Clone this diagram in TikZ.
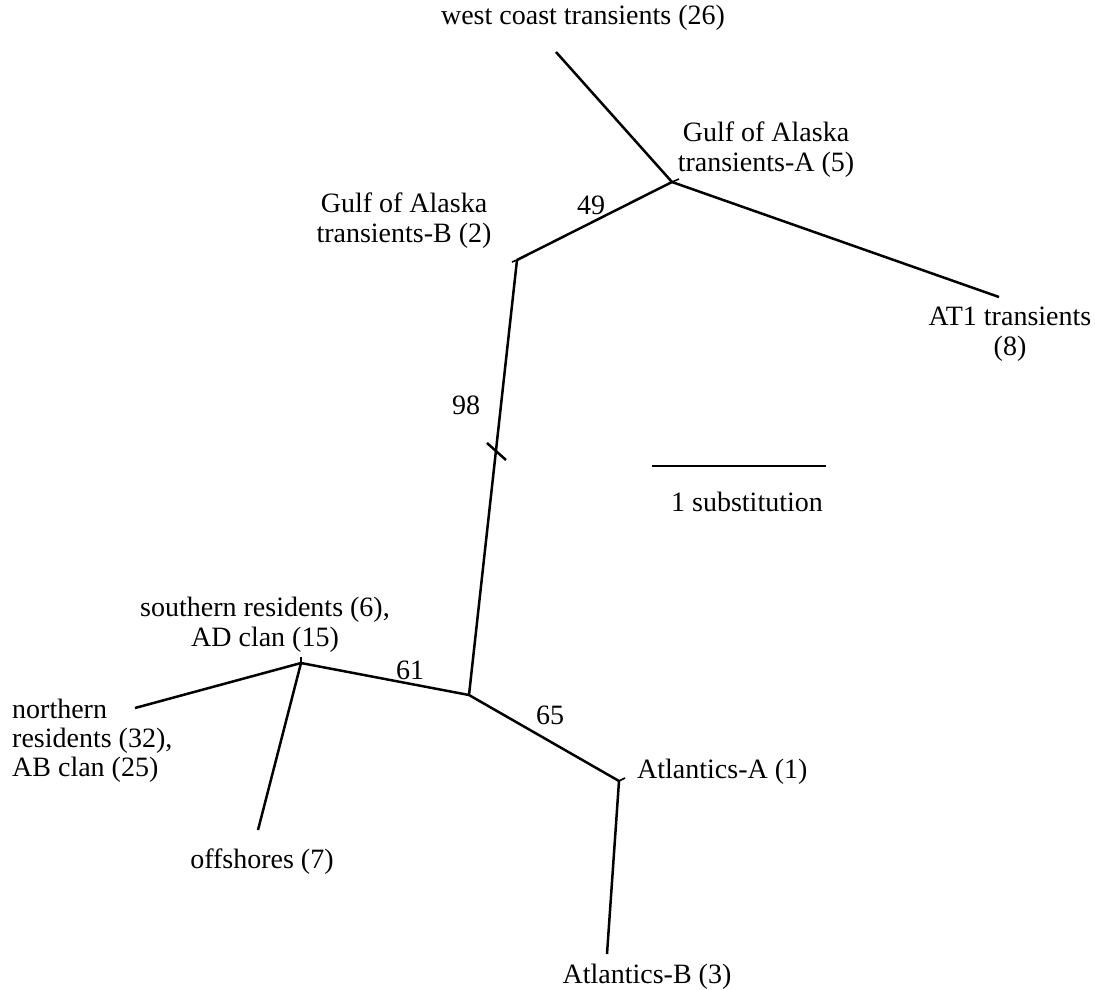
\documentclass[tikz,border=0pt]{standalone}
\usepackage{fontspec}
\setmainfont{Liberation Serif}
\begin{document}
\begin{tikzpicture}[x=1pt,y=-1pt,
  branch/.style={line width=2.5pt,line cap=butt},
  stub/.style={line width=1.6pt},
  lbl/.style={font=\fontsize{28}{30}\selectfont,inner sep=0pt,align=center},
  lbll/.style={font=\fontsize{28}{29}\selectfont,inner sep=0pt,align=left}]
\useasboundingbox (0,0) rectangle (1095,989);
% vertices
\coordinate (WC) at (556,52);
\coordinate (A) at (672,182);
\coordinate (AT1) at (999,297);
\coordinate (B) at (517,260);
\coordinate (C) at (469,695);
\coordinate (SR) at (301,663);
\coordinate (N) at (135,708);
\coordinate (OFF) at (258,830);
\coordinate (ATA) at (619,781);
\coordinate (ATB) at (607,954);
\coordinate (T1) at (487,443);
\coordinate (T2) at (506,460);
\coordinate (S1) at (652,466);
\coordinate (S2) at (826,466);
% tiny stubs at vertices
\coordinate (As) at (679,179);
\coordinate (Bs) at (512,262);
\coordinate (SRs) at (301,657);
\coordinate (ATAs) at (625,778);
% branches
\draw[branch] (WC) -- (A);
\draw[branch] (A) -- (AT1);
\draw[branch] (A) -- (B);
\draw[branch] (B) -- (C);
\draw[branch] (C) -- (SR);
\draw[branch] (SR) -- (N);
\draw[branch] (SR) -- (OFF);
\draw[branch] (C) -- (ATA);
\draw[branch] (ATA) -- (ATB);
\draw[branch] (T1) -- (T2);
\draw[stub] (A) -- (As);
\draw[stub] (B) -- (Bs);
\draw[stub] (SR) -- (SRs);
\draw[stub] (ATA) -- (ATAs);
\draw[branch] (S1) -- (S2);
% labels
\node[lbl] (lwc) at (583,18) {west coast transients (26)};
\node[lbl] (la) at (766,150) {Gulf of Alaska\\transients-A (5)};
\node[lbl] (lb) at (404,221) {Gulf of Alaska\\transients-B (2)};
\node[lbl] (l49) at (591,205) {49};
\node[lbl] (lat1) at (1010,334) {AT1 transients\\(8)};
\node[lbl] (l98) at (466,405) {98};
\node[lbl] (lsc) at (747,502) {1 substitution};
\node[lbl] (lsr) at (265,625) {southern residents (6),\\AD clan (15)};
\node[lbl] (l61) at (410,670) {61};
\node[lbll,anchor=west] (ln) at (12,741) {northern\\residents (32),\\AB clan (25)};
\node[lbl] (l65) at (550,715) {65};
\node[lbl,anchor=west] (lata) at (637,772) {Atlantics-A (1)};
\node[lbl] (loff) at (262,862) {offshores (7)};
\node[lbl] (latb) at (647,977) {Atlantics-B (3)};
\end{tikzpicture}
\end{document}
